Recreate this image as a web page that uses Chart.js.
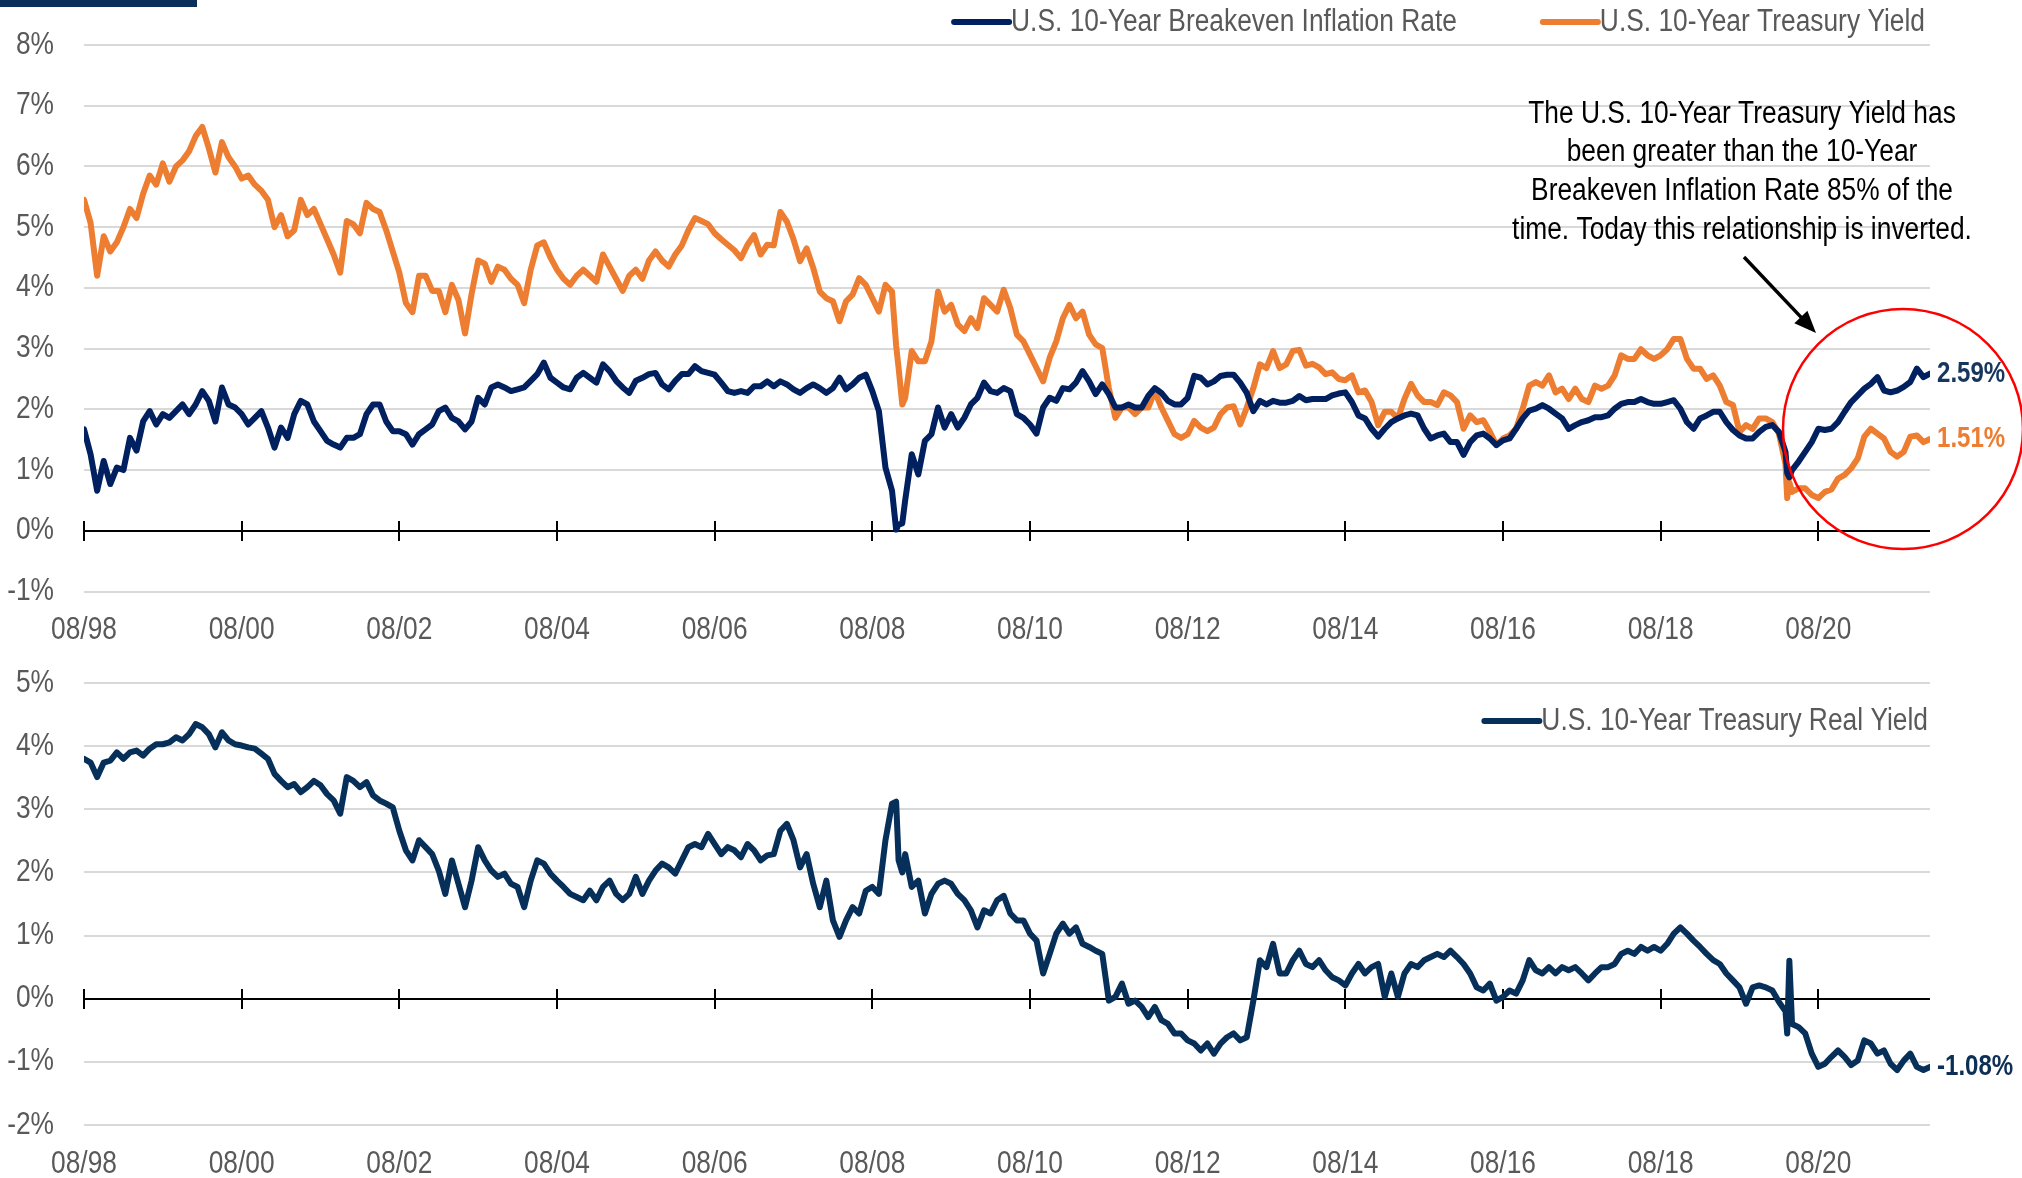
<!DOCTYPE html>
<html>
<head>
<meta charset="utf-8">
<script src="https://cdn.jsdelivr.net/npm/chart.js@4.4.0/dist/chart.umd.min.js"></script>
<style>
  html, body { margin: 0; padding: 0; background: #fff; }
  body { width: 2022px; height: 1178px; position: relative; overflow: hidden; }
  #topBar { position: absolute; left: 0; top: 0; width: 197px; height: 7px; background: #0b2f5b; }
  #topWrap { position: absolute; left: 0; top: 0; width: 2022px; height: 662px; }
  #bottomWrap { position: absolute; left: 0; top: 643px; width: 2022px; height: 535px; }
</style>
</head>
<body>
<div id="bottomWrap"><canvas id="bottomChart"></canvas></div>
<div id="topWrap"><canvas id="topChart"></canvas></div>
<div id="topBar"></div>
<script>
// monthly readings, Aug 1998 .. Jan 2022 (first of month)
const startMonth = '1998-08';

const breakeven = [
  1.67, 1.26, 0.66, 1.15, 0.77,
  1.04, 1.00, 1.53, 1.32, 1.80, 1.97, 1.75, 1.92, 1.86, 1.97, 2.08, 1.92,
  2.08, 2.30, 2.14, 1.80, 2.36, 2.08, 2.03, 1.92, 1.75, 1.86, 1.97, 1.70,
  1.37, 1.70, 1.53, 1.92, 2.14, 2.08, 1.80, 1.64, 1.48, 1.42, 1.37, 1.53,
  1.53, 1.59, 1.92, 2.08, 2.08, 1.80, 1.64, 1.64, 1.59, 1.42, 1.59, 1.67,
  1.75, 1.97, 2.03, 1.86, 1.80, 1.67, 1.80, 2.19, 2.08, 2.36, 2.41, 2.36,
  2.30, 2.33, 2.36, 2.47, 2.58, 2.77, 2.52, 2.44, 2.36, 2.33, 2.52, 2.60,
  2.52, 2.44, 2.74, 2.63, 2.47, 2.36, 2.27, 2.47, 2.52, 2.58, 2.60, 2.41,
  2.33, 2.47, 2.58, 2.58, 2.71, 2.63, 2.60, 2.57, 2.44, 2.30, 2.27, 2.30,
  2.27, 2.38, 2.38, 2.46, 2.38, 2.46, 2.41, 2.33, 2.27, 2.35, 2.41, 2.35,
  2.27, 2.35, 2.52, 2.33, 2.41, 2.52, 2.57, 2.30, 1.97, 1.04, 0.66, 0.10,
  0.50, 1.26, 0.93, 1.48, 1.59, 2.03, 1.70, 1.92, 1.70, 1.86, 2.08, 2.19,
  2.44, 2.30, 2.27, 2.35, 2.30, 1.92, 1.86, 1.75, 1.60, 2.03, 2.19, 2.14,
  2.35, 2.33, 2.44, 2.63, 2.46, 2.25, 2.41, 2.25, 2.03, 2.03, 2.08, 2.03,
  2.03, 2.22, 2.35, 2.27, 2.14, 2.08, 2.08, 2.19, 2.55, 2.52, 2.41, 2.46,
  2.55, 2.57, 2.57, 2.44, 2.27, 1.97, 2.14, 2.08, 2.14, 2.11, 2.11, 2.14,
  2.22, 2.15, 2.17, 2.17, 2.17, 2.23, 2.26, 2.28, 2.12, 1.90, 1.85, 1.68,
  1.55, 1.68, 1.79, 1.85, 1.90, 1.93, 1.90, 1.68, 1.52, 1.57, 1.60, 1.46,
  1.46, 1.25, 1.46, 1.57, 1.60, 1.52, 1.41, 1.49, 1.52, 1.68, 1.85, 1.98,
  2.01, 2.07, 2.01, 1.93, 1.85, 1.68, 1.74, 1.79, 1.82, 1.87, 1.87, 1.90,
  2.01, 2.09, 2.12, 2.12, 2.17, 2.12, 2.09, 2.09, 2.12, 2.15, 2.01, 1.79,
  1.68, 1.85, 1.90, 1.96, 1.96, 1.79, 1.66, 1.57, 1.52, 1.52, 1.63, 1.71,
  1.74, 1.63, 1.30, 1.00, 1.14, 1.30, 1.46, 1.68, 1.66, 1.68, 1.79, 1.96,
  2.12, 2.23, 2.34, 2.42, 2.53, 2.31, 2.28, 2.31, 2.37, 2.45, 2.67, 2.53,
  2.59
];

const treasury = [
  5.45, 5.07, 4.20, 4.85, 4.60,
  4.75, 5.00, 5.30, 5.15, 5.55, 5.85, 5.70, 6.05, 5.75, 6.00, 6.10, 6.25,
  6.50, 6.65, 6.30, 5.90, 6.40, 6.15, 6.00, 5.80, 5.85, 5.70, 5.60, 5.45,
  5.00, 5.20, 4.85, 4.95, 5.45, 5.20, 5.30, 5.05, 4.80, 4.55, 4.25, 5.10,
  5.05, 4.90, 5.40, 5.30, 5.25, 4.95, 4.60, 4.25, 3.75, 3.60, 4.20, 4.20,
  3.95, 3.95, 3.60, 4.05, 3.80, 3.25, 3.90, 4.45, 4.40, 4.10, 4.35, 4.30,
  4.15, 4.05, 3.75, 4.30, 4.70, 4.75, 4.50, 4.30, 4.15, 4.05, 4.20, 4.30,
  4.20, 4.10, 4.55, 4.35, 4.15, 3.95, 4.20, 4.30, 4.15, 4.45, 4.60, 4.45,
  4.35, 4.55, 4.70, 4.95, 5.15, 5.10, 5.05, 4.90, 4.80, 4.71, 4.62, 4.49,
  4.71, 4.87, 4.55, 4.71, 4.70, 5.25, 5.09, 4.80, 4.44, 4.65, 4.33, 3.94,
  3.83, 3.78, 3.45, 3.78, 3.89, 4.16, 4.05, 3.83, 3.61, 4.05, 3.94, 2.68,
  2.19, 2.96, 2.79, 2.79, 3.12, 3.94, 3.61, 3.72, 3.40, 3.29, 3.50, 3.34,
  3.83, 3.72, 3.61, 3.97, 3.67, 3.23, 3.12, 2.90, 2.68, 2.46, 2.85, 3.12,
  3.50, 3.72, 3.50, 3.61, 3.23, 3.07, 3.01, 2.35, 1.86, 2.03, 2.03, 1.92,
  2.03, 2.03, 2.30, 2.03, 1.81, 1.59, 1.53, 1.59, 1.81, 1.70, 1.64, 1.70,
  1.92, 2.03, 2.05, 1.75, 2.03, 2.35, 2.74, 2.68, 2.96, 2.68, 2.74, 2.96,
  2.98, 2.72, 2.75, 2.69, 2.58, 2.61, 2.50, 2.48, 2.56, 2.28, 2.31, 2.12,
  1.74, 1.96, 1.96, 1.85, 2.17, 2.42, 2.23, 2.12, 2.12, 2.07, 2.28, 2.23,
  2.12, 1.68, 1.90, 1.79, 1.82, 1.63, 1.41, 1.52, 1.57, 1.68, 2.01, 2.39,
  2.45, 2.39, 2.56, 2.28, 2.34, 2.17, 2.34, 2.17, 2.12, 2.39, 2.34, 2.39,
  2.56, 2.89, 2.83, 2.83, 2.99, 2.89, 2.83, 2.89, 2.99, 3.16, 3.16, 2.83,
  2.67, 2.67, 2.50, 2.56, 2.39, 2.12, 2.07, 1.63, 1.74, 1.68, 1.85, 1.85,
  1.79, 1.60, 1.10, 0.64, 0.70, 0.70, 0.59, 0.54, 0.64, 0.68, 0.86, 0.92,
  1.03, 1.19, 1.55, 1.68, 1.60, 1.52, 1.30, 1.22, 1.30, 1.55, 1.57, 1.46,
  1.51
];

const realYield = [
  3.80, 3.74, 3.51, 3.74, 3.77,
  3.90, 3.80, 3.90, 3.93, 3.85, 3.96, 4.03, 4.03, 4.06, 4.14, 4.09, 4.19,
  4.35, 4.30, 4.19, 3.98, 4.22, 4.09, 4.03, 4.01, 3.98, 3.96, 3.88, 3.80,
  3.56, 3.45, 3.35, 3.40, 3.27, 3.35, 3.45, 3.38, 3.24, 3.14, 2.93, 3.51,
  3.45, 3.35, 3.43, 3.22, 3.14, 3.09, 3.03, 2.66, 2.35, 2.19, 2.51, 2.40,
  2.29, 2.03, 1.66, 2.19, 1.82, 1.45, 1.87, 2.40, 2.19, 2.03, 1.93, 1.98,
  1.82, 1.77, 1.45, 1.87, 2.19, 2.14, 1.98, 1.87, 1.77, 1.66, 1.61, 1.56,
  1.71, 1.56, 1.77, 1.87, 1.66, 1.56, 1.66, 1.93, 1.66, 1.87, 2.03, 2.14,
  2.08, 1.98, 2.19, 2.40, 2.45, 2.40, 2.61, 2.45, 2.29, 2.40, 2.35, 2.24,
  2.45, 2.35, 2.19, 2.27, 2.29, 2.66, 2.77, 2.51, 2.08, 2.29, 1.82, 1.45,
  1.87, 1.24, 0.98, 1.24, 1.45, 1.35, 1.71, 1.77, 1.66, 2.51, 3.09, 2.19,
  2.29, 1.77, 1.87, 1.35, 1.66, 1.82, 1.87, 1.82, 1.66, 1.56, 1.40, 1.13,
  1.40, 1.35, 1.56, 1.63, 1.35, 1.24, 1.24, 1.03, 0.92, 0.40, 0.71, 1.03,
  1.19, 1.03, 1.13, 0.87, 0.82, 0.76, 0.71, -0.03, 0.03, 0.24, -0.08, -0.03,
  -0.13, -0.29, -0.13, -0.34, -0.40, -0.55, -0.55, -0.66, -0.71, -0.82, -0.71, -0.87,
  -0.71, -0.61, -0.55, -0.66, -0.61, -0.03, 0.61, 0.50, 0.87, 0.40, 0.40, 0.61,
  0.76, 0.55, 0.50, 0.61, 0.45, 0.34, 0.29, 0.21, 0.40, 0.55, 0.40, 0.50,
  0.55, 0.03, 0.40, 0.03, 0.40, 0.55, 0.50, 0.61, 0.66, 0.71, 0.66, 0.76,
  0.66, 0.55, 0.40, 0.18, 0.13, 0.24, -0.03, 0.03, 0.13, 0.08, 0.29, 0.61,
  0.45, 0.40, 0.50, 0.40, 0.50, 0.45, 0.50, 0.40, 0.29, 0.40, 0.50, 0.50,
  0.55, 0.71, 0.76, 0.71, 0.82, 0.76, 0.82, 0.76, 0.87, 1.03, 1.13, 1.03,
  0.92, 0.82, 0.71, 0.61, 0.55, 0.40, 0.29, 0.18, -0.08, 0.18, 0.21, 0.18,
  0.13, -0.05, -0.20, -0.40, -0.45, -0.55, -0.87, -1.08, -1.03, -0.92, -0.82, -0.92,
  -1.05, -0.98, -0.66, -0.71, -0.87, -0.82, -1.03, -1.13, -0.98, -0.87, -1.08, -1.13,
  -1.08
];

// a few in-between days where the lines spike
const extraDates = ['2008-11-20', '2008-12-18', '2020-03-09', '2020-03-19'];
const breakevenExtra = [0.02, 0.12, 0.95, 0.88];
const treasuryExtra = [3.05, 2.08, 0.54, 0.80];
const realExtra = [3.12, 2.00, -0.55, 0.60];

const tickLabels = ['08/98', '08/00', '08/02', '08/04', '08/06', '08/08', '08/10', '08/12', '08/14', '08/16', '08/18', '08/20'];
const topYTicks = [8, 7, 6, 5, 4, 3, 2, 1, 0, -1];
const bottomYTicks = [5, 4, 3, 2, 1, 0, -1, -2];

const note = [
  'The U.S. 10-Year Treasury Yield has',
  'been greater than the 10-Year',
  'Breakeven Inflation Rate 85% of the',
  'time. Today this relationship is inverted.'
];

// no narrow face installed: squeeze a regular face horizontally
const FONT = "'Liberation Sans', Arial, sans-serif";
const SQUEEZE = 0.85;
const NAVY = '#002060';
const REAL_NAVY = '#06305a';
const ORANGE = '#ED7D31';
const GRID = '#d9d9d9';
const TEXT = '#595959';

function toYear(s) {
  const p = s.split('-').map(Number);
  return p[0] + (p[1] - 1) / 12 + (p[2] ? (p[2] - 1) / 365 : 0);
}

function monthList(n) {
  const [y0, m0] = startMonth.split('-').map(Number);
  const out = [];
  for (let i = 0; i < n; i++) {
    const k = m0 - 1 + i;
    out.push(`${y0 + Math.floor(k / 12)}-${String(k % 12 + 1).padStart(2, '0')}`);
  }
  return out;
}

function points(values, extras) {
  const months = monthList(values.length);
  const pts = months.map((d, i) => ({ x: toYear(d), y: values[i] }));
  extraDates.forEach((d, i) => pts.push({ x: toYear(d), y: extras[i] }));
  return pts.sort((a, b) => a.x - b.x);
}

const tickYears = tickLabels.map(t => {
  const [mm, yy] = t.split('/').map(Number);
  return (yy > 50 ? 1900 : 2000) + yy + (mm - 1) / 12;
});

const xMin = tickYears[0];
const xMax = toYear(monthList(breakeven.length).pop());

function narrowText(ctx, text, x, y, align, font, color, sx) {
  ctx.save();
  ctx.font = font;
  ctx.fillStyle = color;
  ctx.textAlign = align;
  ctx.textBaseline = 'middle';
  ctx.translate(x, y);
  ctx.scale(sx || SQUEEZE, 1);
  ctx.fillText(text, 0, 0);
  ctx.restore();
}

// solid black zero line with tick marks at the date labels
const zeroAxis = {
  id: 'zeroAxis',
  beforeDatasetsDraw(chart) {
    const { ctx, chartArea, scales: { x, y } } = chart;
    const y0 = Math.round(y.getPixelForValue(0));
    ctx.save();
    ctx.strokeStyle = '#000';
    ctx.lineWidth = 2;
    ctx.beginPath();
    ctx.moveTo(chartArea.left, y0);
    ctx.lineTo(chartArea.right, y0);
    tickYears.forEach(v => {
      const px = Math.round(x.getPixelForValue(v));
      ctx.moveTo(px, y0 - 10);
      ctx.lineTo(px, y0 + 10);
    });
    ctx.stroke();
    ctx.restore();
  }
};

// axis labels in the squeezed face
const axisText = {
  id: 'axisText',
  afterDraw(chart, args, opts) {
    const { ctx, chartArea, scales: { x, y } } = chart;
    const font = `31px ${FONT}`;
    opts.yTicks.forEach(v => narrowText(ctx, v + '%', 54, y.getPixelForValue(v), 'right', font, TEXT));
    tickYears.forEach((v, i) => narrowText(ctx, tickLabels[i], x.getPixelForValue(v), chartArea.bottom + 39, 'center', font, TEXT));
  }
};

// legend: short thick line + label, laid out right to left
const lineLegend = {
  id: 'lineLegend',
  afterDraw(chart, args, opts) {
    const ctx = chart.ctx;
    const font = `31px ${FONT}`;
    ctx.save();
    ctx.font = font;
    let x = opts.right;
    const order = opts.order;
    for (let i = order.length - 1; i >= 0; i--) {
      const ds = chart.data.datasets[order[i]];
      const w = ctx.measureText(ds.label).width * SQUEEZE;
      x -= w;
      narrowText(ctx, ds.label, x, opts.y, 'left', font, TEXT);
      x -= 2;
      ctx.strokeStyle = ds.borderColor;
      ctx.lineWidth = 6;
      ctx.lineCap = 'round';
      ctx.beginPath();
      ctx.moveTo(x - opts.lineLength, opts.y);
      ctx.lineTo(x, opts.y);
      ctx.stroke();
      x -= opts.lineLength + opts.gap;
    }
    ctx.restore();
  }
};

// last value written after the end of each line
const endLabels = {
  id: 'endLabels',
  afterDatasetsDraw(chart) {
    const { ctx, chartArea, scales: { y } } = chart;
    chart.data.datasets.forEach(ds => {
      const last = ds.data[ds.data.length - 1].y;
      narrowText(ctx, last.toFixed(2) + '%', chartArea.right + 7, y.getPixelForValue(last),
        'left', `bold 29px ${FONT}`, ds.labelColor, 0.83);
    });
  }
};

// note text, arrow and red circle on the top chart
const noteLayer = {
  id: 'noteLayer',
  afterDraw(chart) {
    const ctx = chart.ctx;
    note.forEach((line, i) => narrowText(ctx, line, 1742, 114 + i * 38.7, 'center', `31px ${FONT}`, '#000'));

    ctx.save();
    ctx.strokeStyle = '#000';
    ctx.lineWidth = 3.5;
    const x1 = 1744, y1 = 257, x2 = 1816, y2 = 333;
    const ang = Math.atan2(y2 - y1, x2 - x1);
    ctx.beginPath();
    ctx.moveTo(x1, y1);
    ctx.lineTo(x2 - 16 * Math.cos(ang), y2 - 16 * Math.sin(ang));
    ctx.stroke();
    ctx.beginPath();
    ctx.moveTo(x2, y2);
    ctx.lineTo(x2 - 22 * Math.cos(ang) + 9 * Math.sin(ang), y2 - 22 * Math.sin(ang) - 9 * Math.cos(ang));
    ctx.lineTo(x2 - 22 * Math.cos(ang) - 9 * Math.sin(ang), y2 - 22 * Math.sin(ang) + 9 * Math.cos(ang));
    ctx.closePath();
    ctx.fillStyle = '#000';
    ctx.fill();

    ctx.strokeStyle = '#ff0000';
    ctx.lineWidth = 2.5;
    ctx.beginPath();
    ctx.arc(1903, 429, 120, 0, Math.PI * 2);
    ctx.stroke();
    ctx.restore();
  }
};

function xScale(height) {
  return {
    type: 'linear',
    min: xMin,
    max: xMax,
    afterFit(scale) { scale.height = height; },
    afterBuildTicks(scale) { scale.ticks = tickYears.map(v => ({ value: v })); },
    grid: { display: false, drawTicks: false },
    border: { display: false },
    ticks: { display: false }
  };
}

function yScale(ticks) {
  return {
    min: ticks[ticks.length - 1],
    max: ticks[0],
    afterFit(scale) { scale.width = 84; },
    afterBuildTicks(scale) { scale.ticks = ticks.map(v => ({ value: v })); },
    grid: {
      drawTicks: false,
      lineWidth: 2,
      color: c => (c.tick && c.tick.value === 0 ? 'rgba(0,0,0,0)' : GRID)
    },
    border: { display: false },
    ticks: { display: false }
  };
}

function lineSet(label, values, extras, color, labelColor) {
  return {
    label: label,
    data: points(values, extras),
    borderColor: color,
    labelColor: labelColor,
    borderWidth: 6,
    pointRadius: 0,
    borderJoinStyle: 'round',
    borderCapStyle: 'round',
    tension: 0
  };
}

Chart.defaults.animation = false;

new Chart(document.getElementById('topChart'), {
  type: 'line',
  data: {
    datasets: [
      lineSet('U.S. 10-Year Breakeven Inflation Rate', breakeven, breakevenExtra, NAVY, '#17365d'),
      lineSet('U.S. 10-Year Treasury Yield', treasury, treasuryExtra, ORANGE, ORANGE)
    ]
  },
  options: {
    responsive: true,
    maintainAspectRatio: false,
    layout: { padding: { top: 45, right: 92, bottom: 0, left: 0 } },
    plugins: {
      legend: { display: false },
      tooltip: { enabled: false },
      axisText: { yTicks: topYTicks },
      lineLegend: { y: 22, right: 1925, lineLength: 55, gap: 86, order: [0, 1] }
    },
    scales: { x: xScale(70.5), y: yScale(topYTicks) }
  },
  plugins: [zeroAxis, endLabels, axisText, lineLegend, noteLayer]
});

new Chart(document.getElementById('bottomChart'), {
  type: 'line',
  data: {
    datasets: [
      lineSet('U.S. 10-Year Treasury Real Yield', realYield, realExtra, REAL_NAVY, '#0e2f55')
    ]
  },
  options: {
    responsive: true,
    maintainAspectRatio: false,
    layout: { padding: { top: 40, right: 92, bottom: 0, left: 0 } },
    plugins: {
      legend: { display: false },
      tooltip: { enabled: false },
      axisText: { yTicks: bottomYTicks },
      lineLegend: { y: 78, right: 1928, lineLength: 55, gap: 86, order: [0] }
    },
    scales: { x: xScale(53), y: yScale(bottomYTicks) }
  },
  plugins: [zeroAxis, endLabels, axisText, lineLegend]
});
</script>
</body>
</html>
